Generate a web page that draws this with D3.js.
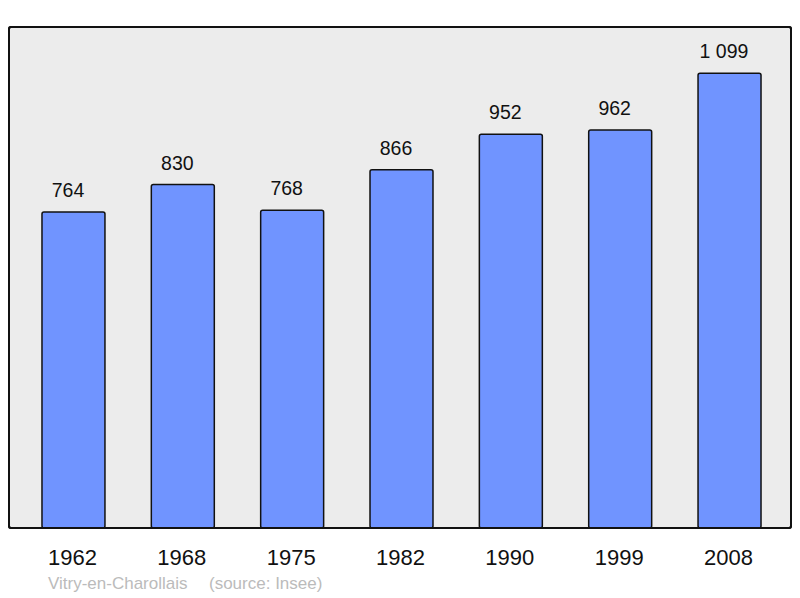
<!DOCTYPE html>
<html><head><meta charset="utf-8">
<script src="https://cdn.jsdelivr.net/npm/d3@7"></script>
<style>body{margin:0;background:#fff}svg{display:block;font-family:"Liberation Sans",Arial,sans-serif}</style>
</head><body>
<script>
const years = ["1962","1968","1975","1982","1990","1999","2008"];
const population = [764, 830, 768, 866, 952, 962, 1099];
const valueLabels = ["764","830","768","866","952","962","1 099"];
const title = "Vitry-en-Charollais";
const source = "(source: Insee)";

const W = 800, H = 598;
const svg = d3.select("body").append("svg").attr("width", W).attr("height", H);

svg.append("rect").attr("x", 9).attr("y", 27).attr("width", 782).attr("height", 501)
  .attr("rx", 2).attr("fill", "#ececec").attr("stroke", "#111").attr("stroke-width", 2);

const x = d3.scaleBand().domain(years).range([18.8, 784.2]).paddingInner(0.424).paddingOuter(0.212);
const y = d3.scaleLinear().domain([0, 1211]).range([528, 27]);

const g = svg.append("g");
g.selectAll("rect.bar").data(population).join("rect").attr("class", "bar")
  .attr("x", (d, i) => x(years[i])).attr("width", x.bandwidth())
  .attr("y", d => y(d)).attr("height", d => y(0) - y(d))
  .attr("rx", 2).attr("fill", "#7094ff").attr("stroke", "#111").attr("stroke-width", 1.5);

g.selectAll("text.val").data(population).join("text").attr("class", "val")
  .attr("x", (d, i) => x(years[i]) + x.bandwidth() / 2 - 5.5).attr("y", d => y(d) - 15)
  .attr("text-anchor", "middle").attr("font-size", 19.5).attr("fill", "#111")
  .text((d, i) => valueLabels[i]);

svg.append("rect").attr("x", 9).attr("y", 27).attr("width", 782).attr("height", 501)
  .attr("rx", 2).attr("fill", "none").attr("stroke", "#111").attr("stroke-width", 2);

const axis = d3.axisBottom(x).tickSize(0).tickPadding(0);
const ax = svg.append("g").attr("transform", "translate(-1,565)").call(axis);
ax.select(".domain").remove();
ax.selectAll("text").attr("font-size", 22).attr("fill", "#111")
  .attr("font-family", "'Liberation Sans',Arial,sans-serif").attr("dy", 0);

svg.append("text").attr("x", 48).attr("y", 589).attr("font-size", 17).attr("fill", "#bbb").text(title);
svg.append("text").attr("x", 209).attr("y", 589).attr("font-size", 17).attr("fill", "#bbb").text(source);
</script>
</body></html>
